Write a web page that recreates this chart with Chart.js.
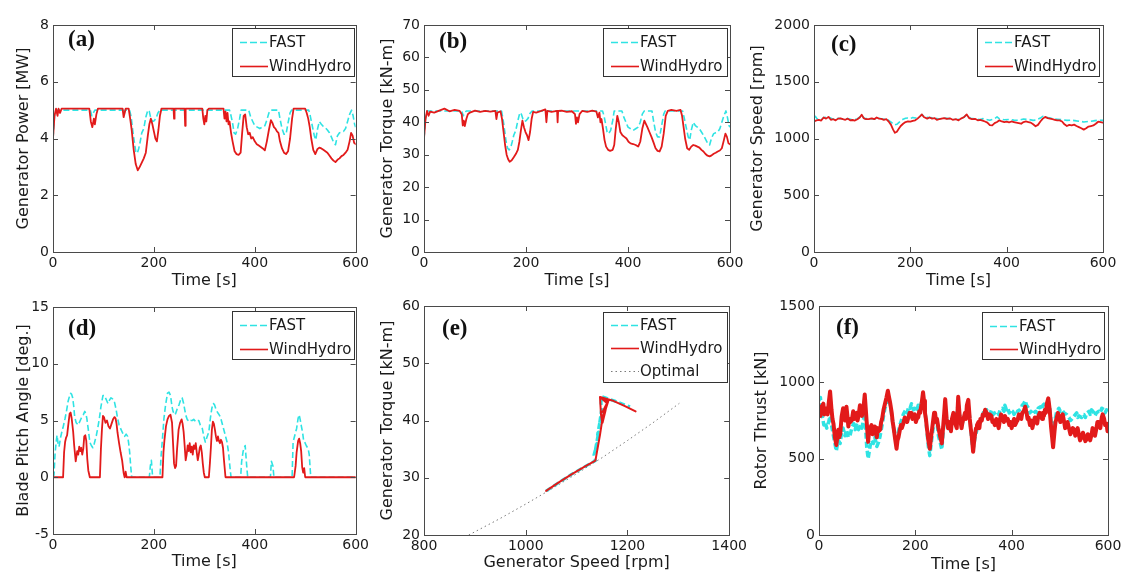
<!DOCTYPE html>
<html><head><meta charset="utf-8">
<script src="https://cdn.jsdelivr.net/npm/chart.js@4.4.1/dist/chart.umd.min.js"></script>
<style>
html,body{margin:0;padding:0;background:#fff;}
#wrap{position:relative;width:1146px;height:580px;overflow:hidden;background:#fff;}
canvas{position:absolute;}
</style></head><body><div id="wrap">
<canvas id="pa"></canvas><canvas id="pb"></canvas><canvas id="pc"></canvas>
<canvas id="pd"></canvas><canvas id="pe"></canvas><canvas id="pf"></canvas>
</div>
<script>
// ---------- tick labels ----------
const timeTicks   = [0, 200, 400, 600];
const powerTicks  = [0, 2, 4, 6, 8];
const torqueTicks = [0, 10, 20, 30, 40, 50, 60, 70];
const speedTicks  = [0, 500, 1000, 1500, 2000];
const pitchTicks  = [-5, 0, 5, 10, 15];
const curveXTicks = [800, 1000, 1200, 1400];
const curveYTicks = [20, 30, 40, 50, 60];
const thrustTicks = [0, 500, 1000, 1500];

// ---------- series: [time s, value] ----------
const powerWindHydro = [[0,4.0],[3,4.8],[6,5.05],[9,4.8],[11,5.05],[14,4.9],[17,5.05],[72,5.05],[75,4.6],[78,4.4],[81,4.7],[83,4.5],[86,4.85],[89,5.05],[138,5.05],[140,4.75],[142,4.9],[144,5.05],[150,5.05],[153,4.7],[156,4.3],[160,3.6],[164,3.1],[168,2.88],[172,3.0],[176,3.15],[180,3.3],[184,3.5],[188,4.1],[191,4.5],[194,4.7],[197,4.5],[200,4.25],[203,4.0],[206,3.9],[209,4.3],[212,4.8],[215,5.05],[239,5.05],[240,4.7],[241,5.05],[261,5.05],[262,4.45],[263,5.05],[296,5.05],[298,4.7],[300,4.5],[302,4.8],[304,4.6],[306,5.0],[309,5.05],[338,5.05],[340,4.7],[342,4.95],[344,4.6],[346,4.9],[348,4.5],[350,4.6],[353,4.2],[356,3.9],[360,3.55],[364,3.45],[368,3.42],[372,3.5],[375,4.2],[378,4.8],[381,4.85],[384,4.4],[387,4.15],[390,4.2],[393,4.0],[396,4.05],[400,3.9],[404,3.8],[408,3.75],[412,3.7],[416,3.65],[420,3.58],[424,3.9],[428,4.3],[432,4.65],[435,4.55],[438,4.4],[441,4.35],[444,4.25],[447,4.2],[450,3.9],[454,3.65],[458,3.5],[462,3.45],[466,3.55],[470,4.0],[474,4.7],[477,5.05],[500,5.05],[503,4.9],[506,4.7],[509,4.4],[512,4.0],[516,3.6],[520,3.45],[524,3.62],[528,3.68],[532,3.65],[536,3.6],[540,3.55],[544,3.5],[548,3.4],[552,3.3],[556,3.22],[560,3.17],[564,3.25],[568,3.3],[572,3.38],[576,3.42],[580,3.5],[584,3.6],[588,3.9],[591,4.2],[594,4.1],[597,3.85],[600,3.8]];
const powerFAST = [[0,4.0],[3,4.8],[6,5.0],[74,5.0],[77,4.8],[80,4.9],[83,5.0],[139,5.0],[141,4.85],[143,5.0],[152,5.0],[155,4.75],[158,4.3],[161,3.9],[164,3.55],[167,3.48],[170,3.65],[173,3.9],[176,4.2],[180,4.35],[184,4.75],[188,5.0],[191,4.95],[194,4.7],[197,4.6],[200,4.62],[204,4.7],[208,4.9],[212,5.0],[350,5.0],[353,4.8],[356,4.55],[359,4.2],[362,4.15],[366,4.35],[370,4.7],[373,5.0],[388,5.0],[392,4.75],[396,4.6],[400,4.45],[405,4.4],[410,4.35],[415,4.4],[420,4.45],[424,4.65],[428,4.9],[432,5.0],[447,5.0],[450,4.7],[454,4.35],[458,4.15],[462,4.15],[466,4.55],[470,4.9],[473,5.0],[507,5.0],[510,4.8],[514,4.45],[518,4.1],[521,3.95],[524,4.3],[528,4.6],[532,4.5],[536,4.42],[540,4.38],[544,4.3],[548,4.2],[552,4.05],[556,3.88],[560,3.78],[564,4.1],[568,4.2],[572,4.22],[576,4.25],[580,4.35],[584,4.6],[588,4.85],[592,5.0],[595,4.8],[598,4.5],[600,4.4]];

const torqueWindHydro = [[0,35],[3,41],[6,43.5],[9,42],[12,43.3],[20,43],[30,43.6],[40,44.2],[50,43.4],[60,43.8],[70,43.5],[74,42.5],[76,39],[78,40.5],[80,38.8],[83,41],[86,42.5],[90,43],[100,43.6],[110,43.2],[120,43.5],[130,43.3],[140,43.5],[142,41],[144,43],[150,43.4],[153,41],[156,37],[159,33],[162,30],[165,28.6],[168,27.8],[172,28.3],[176,29.2],[180,30.2],[184,31.5],[187,34],[190,37.5],[193,40.5],[196,38.5],[199,37],[202,36],[205,34.5],[208,37],[211,41],[214,43.2],[220,43],[230,43.5],[238,44],[240,40],[242,43.5],[250,43.2],[261,43.5],[262,40],[263,43.5],[270,43.6],[280,43.2],[290,43.4],[296,42.5],[298,39.5],[300,41.5],[302,40],[305,42.5],[310,43.5],[320,43.2],[330,43.6],[338,43.3],[341,41.5],[344,43],[346,40],[348,41],[351,38],[354,34.5],[357,32.5],[361,31.5],[365,31.2],[370,31.5],[373,33],[376,38],[379,42],[382,40],[385,37],[389,36],[393,35.5],[397,35],[401,34],[405,33.5],[410,33.3],[415,33],[420,32.5],[424,34],[428,38],[432,40.5],[435,39.5],[438,38.5],[442,37],[446,35.5],[450,33.8],[454,32],[458,31.2],[462,31],[466,32.5],[470,36.5],[474,42],[478,43.5],[485,43.8],[495,43.5],[503,43.8],[506,42],[509,38.5],[512,35],[516,32],[520,31.5],[524,32.5],[528,33],[532,32.8],[536,32.5],[540,32.2],[544,31.5],[548,31],[552,30.2],[556,29.7],[560,29.5],[564,29.8],[568,30.3],[572,30.6],[576,31],[580,31.3],[584,32],[588,34.5],[591,36.5],[594,35.5],[597,33.5],[600,33.2]];
const torqueFAST = [[0,35],[3,41],[6,43.5],[74,43.5],[77,42],[80,43],[83,43.5],[152,43.5],[155,41],[158,37.5],[161,34],[164,32],[167,31.5],[170,32.2],[173,34],[176,36],[180,37.5],[184,40.5],[188,43],[191,42.5],[194,41],[197,40.3],[200,40.5],[204,41.2],[208,42.8],[212,43.5],[350,43.5],[353,42],[356,39.5],[359,37],[362,36.5],[366,37.5],[370,40.5],[373,43.5],[388,43.5],[392,41.5],[396,40],[400,38.5],[405,38],[410,37.5],[415,38],[420,38.5],[424,40],[428,42.5],[432,43.5],[447,43.5],[450,40.5],[454,37],[458,35.5],[462,35.5],[466,39],[470,42.5],[473,43.5],[507,43.5],[510,41.5],[514,38.5],[518,35.5],[521,34.5],[524,37.5],[528,40],[532,39],[536,38.5],[540,38],[544,37],[548,36],[552,34.8],[556,33.6],[560,33],[564,35.2],[568,36.5],[572,36.8],[576,37],[580,38],[584,40],[588,42],[592,43.5],[595,41.5],[598,39],[600,38.5]];

const speedWindHydro = [[0,1150],[5,1160],[10,1165],[15,1158],[20,1185],[25,1175],[30,1190],[35,1165],[40,1170],[45,1160],[50,1175],[55,1178],[60,1170],[65,1165],[70,1175],[75,1160],[80,1163],[85,1158],[90,1170],[95,1185],[99,1210],[103,1180],[108,1170],[115,1172],[120,1178],[125,1170],[130,1185],[135,1175],[140,1172],[145,1165],[150,1170],[155,1150],[160,1120],[164,1080],[168,1050],[172,1060],[176,1085],[180,1110],[185,1130],[190,1145],[195,1150],[200,1148],[205,1155],[210,1160],[215,1175],[220,1195],[224,1212],[228,1190],[235,1175],[240,1185],[245,1175],[250,1180],[255,1165],[260,1170],[265,1175],[270,1180],[276,1172],[282,1178],[288,1165],[295,1170],[300,1160],[305,1175],[312,1190],[317,1212],[322,1180],[328,1170],[335,1172],[340,1160],[345,1165],[350,1158],[355,1150],[360,1140],[365,1118],[370,1115],[375,1135],[380,1145],[385,1160],[390,1150],[395,1145],[400,1148],[405,1142],[410,1150],[415,1145],[420,1140],[425,1135],[430,1130],[435,1145],[440,1150],[445,1145],[450,1140],[455,1125],[460,1108],[465,1120],[470,1150],[475,1175],[480,1190],[485,1180],[490,1175],[495,1170],[500,1165],[505,1160],[510,1160],[515,1150],[520,1125],[525,1110],[530,1120],[535,1115],[540,1122],[545,1110],[550,1100],[555,1090],[560,1078],[565,1090],[570,1105],[575,1110],[580,1115],[585,1130],[590,1148],[595,1145],[600,1140]];
const speedFAST = [[0,1180],[3,1195],[6,1175],[10,1170],[15,1165],[20,1185],[30,1190],[40,1170],[50,1178],[60,1172],[70,1175],[80,1165],[90,1172],[99,1205],[105,1175],[115,1175],[125,1172],[135,1178],[145,1170],[150,1172],[155,1160],[160,1145],[164,1130],[168,1120],[172,1125],[176,1140],[180,1155],[185,1170],[190,1178],[195,1180],[200,1175],[205,1185],[210,1180],[215,1185],[220,1195],[224,1210],[230,1188],[240,1185],[250,1180],[260,1172],[270,1180],[280,1175],[290,1170],[300,1168],[310,1185],[317,1208],[325,1178],[335,1172],[345,1168],[350,1175],[355,1170],[360,1165],[365,1160],[370,1168],[375,1175],[380,1190],[385,1172],[395,1165],[405,1168],[415,1162],[425,1160],[435,1172],[445,1168],[455,1160],[460,1162],[465,1170],[470,1180],[475,1195],[480,1190],[485,1185],[495,1175],[505,1170],[515,1165],[525,1160],[535,1162],[545,1155],[555,1150],[560,1145],[570,1150],[580,1155],[590,1162],[600,1160]];

const pitchWindHydro = [[0,0],[20,0],[22,2.2],[24,3.1],[26,3.5],[28,3.7],[30,4.5],[33,5.6],[35,5.7],[37,5.2],[40,4.0],[42,2.8],[45,1.4],[48,2.3],[50,2.0],[52,2.7],[54,2.3],[56,2.6],[58,2.0],[60,2.5],[62,3.6],[64,3.7],[66,3.2],[68,1.6],[70,0.6],[73,0],[93,0],[95,2.5],[97,4.2],[99,5.4],[101,5.3],[104,4.8],[107,5.0],[110,4.5],[113,4.3],[116,4.7],[119,5.1],[122,5.3],[124,5.2],[126,4.7],[128,3.9],[131,3.0],[134,2.2],[137,1.5],[140,0.4],[142,0],[144,0.5],[146,0],[217,0],[219,2.2],[221,3.3],[224,4.5],[227,5.1],[230,5.4],[233,5.5],[236,4.8],[238,3.0],[240,1.2],[242,0.8],[244,1.0],[246,2.5],[249,4.2],[252,4.8],[255,5.1],[257,4.7],[259,4.0],[261,2.8],[263,1.5],[265,2.0],[267,2.8],[269,2.3],[271,3.0],[273,2.2],[275,2.7],[277,2.0],[279,2.8],[281,2.5],[283,3.0],[285,2.2],[287,1.5],[289,2.0],[291,2.6],[293,2.8],[295,2.2],[297,1.2],[299,0.4],[301,0],[309,0],[311,1.2],[313,2.6],[315,4.2],[317,4.9],[319,4.7],[321,4.2],[323,3.6],[325,3.2],[327,3.6],[329,3.2],[331,3.0],[333,3.3],[335,3.1],[337,2.6],[339,1.5],[342,0],[478,0],[481,1.0],[483,2.2],[486,3.2],[488,3.4],[490,3.0],[492,2.3],[494,0.9],[496,0.4],[498,0.8],[500,0],[600,0]];
const pitchFAST = [[0,0],[2,0.2],[4,2.0],[6,3.0],[8,3.7],[10,3.0],[12,2.7],[15,3.5],[17,3.9],[20,4.4],[24,5.2],[27,5.9],[30,6.7],[33,7.2],[35,7.4],[37,7.3],[39,7.0],[41,6.3],[43,5.3],[46,4.8],[50,4.6],[53,4.9],[56,5.2],[60,5.5],[63,5.8],[65,5.6],[67,5.2],[70,4.2],[73,3.1],[76,2.8],[79,2.6],[82,3.0],[86,3.7],[89,4.4],[92,5.2],[95,6.2],[99,7.2],[102,7.2],[104,7.0],[107,6.7],[109,6.5],[112,6.8],[115,7.0],[118,6.9],[122,6.6],[125,6.0],[128,5.2],[131,4.6],[135,4.2],[138,3.9],[142,3.6],[145,3.8],[148,3.6],[150,3.0],[152,2.2],[154,1.0],[156,0],[191,0],[193,1.0],[195,1.5],[197,0.3],[199,0],[212,0],[214,1.7],[217,3.4],[220,5.2],[223,6.3],[227,7.4],[230,7.5],[233,7.2],[236,6.2],[238,5.8],[241,5.5],[243,5.6],[246,6.0],[250,6.4],[253,6.8],[256,7.0],[259,6.5],[263,5.5],[266,5.1],[270,4.9],[273,5.0],[276,5.0],[279,5.1],[283,4.9],[286,5.0],[289,5.0],[292,4.6],[296,4.3],[299,3.6],[302,3.1],[305,3.5],[309,4.0],[312,5.2],[315,6.1],[318,6.5],[320,6.4],[323,6.0],[325,5.8],[328,5.6],[332,5.3],[335,4.8],[338,4.3],[341,3.8],[345,3.1],[348,2.2],[351,0.8],[353,0],[372,0],[374,1.4],[377,2.3],[381,2.8],[384,1.0],[386,0],[431,0],[433,1.4],[436,1.0],[438,0],[474,0],[476,3.1],[480,3.8],[483,4.3],[486,5.2],[488,5.5],[490,5.1],[492,4.6],[495,3.9],[497,3.2],[499,3.1],[502,2.8],[506,2.5],[508,2.0],[511,0],[600,0]];

// ---------- (e): [generator speed rpm, torque kN-m] ----------
const curveWindHydro = [[1040,27.7],[1065,29.2],[1090,30.6],[1115,31.9],[1137,33.0],[1141,35.0],[1146,37.5],[1150,39.8],[1148,41.0],[1147,42.5],[1146,44.1],[1162,43.4],[1151,41.5],[1161,43.1],[1150,40.5],[1159,42.6],[1151,39.6],[1157,41.8],[1153,40.8],[1163,43.6],[1156,42.2],[1160,43.0],[1146,44.1],[1170,43.5],[1195,42.5],[1216,41.6]];
const curveFAST = [[1040,27.7],[1090,30.6],[1137,33.0],[1134,34.0],[1140,36.0],[1137,35.0],[1143,38.0],[1141,37.5],[1147,40.5],[1145,39.5],[1150,42.5],[1148,43.0],[1150,44.2],[1175,43.4],[1205,42.4]];
const curveOptimal = [[888,20.0],[950,22.9],[1000,25.4],[1050,28.0],[1100,30.7],[1150,33.5],[1200,36.5],[1250,39.6],[1302,43.0]];

const thrustWindHydro = [[0,820],[3,780],[5,840],[9,860],[11,790],[13,810],[16,830],[18,790],[20,860],[23,940],[26,820],[28,760],[30,730],[33,640],[36,590],[38,640],[40,690],[42,640],[44,660],[47,775],[50,830],[52,760],[54,750],[57,840],[59,780],[61,710],[63,760],[65,740],[68,750],[71,810],[73,760],[75,790],[78,800],[80,750],[82,780],[85,850],[87,800],[89,780],[92,820],[95,920],[97,830],[99,740],[102,610],[104,680],[106,700],[109,720],[111,660],[113,690],[116,710],[118,670],[120,640],[122,700],[124,680],[127,690],[129,740],[131,760],[134,820],[137,860],[140,900],[143,945],[145,910],[148,860],[151,800],[153,740],[155,700],[158,630],[161,565],[163,620],[165,640],[168,690],[170,720],[172,700],[175,730],[178,770],[180,760],[183,740],[186,775],[188,800],[190,790],[192,800],[194,760],[196,770],[199,790],[201,740],[203,760],[206,770],[208,810],[210,800],[213,860],[216,935],[218,880],[220,800],[222,760],[224,700],[227,620],[230,565],[233,650],[235,700],[237,750],[239,800],[241,800],[243,740],[245,760],[248,700],[250,670],[252,640],[255,600],[258,720],[260,800],[262,890],[265,760],[268,700],[270,740],[272,710],[274,680],[276,760],[279,800],[281,760],[283,730],[286,700],[289,905],[292,780],[294,740],[296,700],[298,740],[300,760],[303,800],[305,760],[307,850],[310,885],[313,760],[315,700],[317,650],[320,545],[322,610],[324,660],[326,700],[328,720],[331,740],[333,700],[335,760],[338,750],[340,790],[342,780],[345,820],[348,800],[351,760],[353,790],[355,770],[358,780],[360,740],[362,750],[365,720],[368,760],[370,740],[373,700],[376,760],[378,790],[381,770],[384,740],[386,780],[389,750],[392,760],[395,720],[397,740],[400,700],[402,730],[405,760],[407,720],[410,740],[412,750],[415,790],[417,770],[420,760],[422,800],[425,810],[428,840],[431,800],[433,760],[435,770],[438,720],[440,750],[443,700],[445,730],[448,770],[450,760],[453,730],[455,775],[458,800],[460,790],[463,760],[465,800],[467,780],[469,820],[471,800],[473,860],[476,895],[479,820],[482,700],[484,640],[486,575],[489,680],[491,740],[493,760],[496,800],[498,780],[501,740],[504,770],[506,790],[509,740],[511,700],[514,710],[516,740],[519,700],[522,660],[525,680],[527,700],[530,690],[532,650],[535,670],[537,700],[540,650],[542,620],[545,640],[548,670],[550,650],[553,615],[556,630],[558,660],[561,650],[563,620],[566,660],[568,700],[571,680],[573,650],[576,700],[578,740],[581,740],[584,700],[587,770],[589,790],[592,760],[594,720],[597,730],[599,680],[600,700]];
const thrustFAST = [[0,880],[3,900],[5,800],[8,760],[10,720],[13,740],[16,700],[20,740],[23,780],[26,720],[30,650],[33,600],[36,550],[38,590],[40,620],[44,600],[47,680],[50,700],[54,650],[57,690],[61,640],[65,660],[68,700],[72,730],[75,690],[78,720],[82,690],[86,720],[89,700],[92,750],[95,800],[99,580],[102,500],[104,540],[106,580],[109,620],[113,600],[116,640],[120,580],[124,610],[127,650],[131,720],[134,780],[137,830],[140,860],[145,900],[148,850],[151,780],[155,700],[158,640],[161,600],[165,680],[168,720],[172,760],[175,790],[180,820],[183,800],[186,840],[189,830],[192,860],[196,820],[199,830],[203,810],[206,850],[210,840],[213,870],[216,900],[220,820],[224,680],[227,580],[230,520],[233,600],[237,700],[241,780],[245,740],[248,650],[252,600],[255,560],[258,680],[262,820],[266,740],[269,700],[272,690],[276,740],[279,780],[284,720],[289,870],[292,780],[296,720],[300,750],[303,780],[307,820],[310,840],[314,740],[317,620],[320,560],[324,640],[328,690],[331,720],[335,740],[338,760],[341,800],[345,780],[348,820],[351,800],[355,790],[358,820],[362,790],[365,800],[370,810],[373,790],[376,820],[381,830],[384,810],[386,850],[389,820],[392,830],[395,800],[397,820],[402,810],[405,790],[407,800],[410,790],[412,810],[417,820],[420,830],[422,850],[425,860],[428,880],[431,850],[435,830],[438,800],[440,810],[443,790],[445,800],[450,810],[453,800],[455,830],[460,840],[463,820],[465,850],[469,860],[473,880],[476,880],[479,830],[482,740],[486,680],[489,740],[493,800],[496,820],[498,830],[501,810],[504,820],[509,800],[514,790],[519,770],[522,750],[525,760],[530,780],[535,800],[537,770],[540,780],[545,770],[548,790],[550,790],[553,770],[556,800],[561,810],[563,790],[566,820],[571,800],[573,780],[576,800],[581,810],[584,800],[587,830],[592,820],[594,800],[597,820],[600,810]];

// ---------- styling ----------
const CYAN = '#2fe3e3', RED = '#e21a1a', GREY = '#7a7a7a';
Chart.defaults.font.family = '"DejaVu Sans", sans-serif';
Chart.defaults.color = '#1a1a1a';

const panelPlugin = {
  id: 'panelDeco',
  afterDatasetsDraw(chart, args, o) {
    const {ctx, chartArea: a, scales} = chart;
    ctx.save();
    ctx.strokeStyle = '#4a4a4a'; ctx.lineWidth = 1;
    const tl = 5;
    ctx.beginPath();
    scales.x.ticks.forEach(t => {
      const px = Math.round(scales.x.getPixelForValue(t.value)) + 0.5;
      ctx.moveTo(px, a.bottom); ctx.lineTo(px, a.bottom - tl);
      ctx.moveTo(px, a.top); ctx.lineTo(px, a.top + tl);
    });
    scales.y.ticks.forEach(t => {
      const py = Math.round(scales.y.getPixelForValue(t.value)) + 0.5;
      ctx.moveTo(a.left, py); ctx.lineTo(a.left + tl, py);
      ctx.moveTo(a.right, py); ctx.lineTo(a.right - tl, py);
    });
    ctx.stroke();
    ctx.strokeRect(Math.round(a.left) + 0.5, Math.round(a.top) + 0.5,
                   Math.round(a.right - a.left), Math.round(a.bottom - a.top));
    ctx.fillStyle = '#111';
    ctx.font = 'bold 23px "Liberation Serif", serif';
    ctx.textBaseline = 'middle'; ctx.textAlign = 'left';
    ctx.fillText(o.letter, o.lx, o.ly);
    const L = o.legend;
    ctx.fillStyle = '#fff';
    ctx.fillRect(L.x1, L.y1, L.x2 - L.x1, L.y2 - L.y1);
    ctx.strokeStyle = '#333'; ctx.lineWidth = 1;
    ctx.strokeRect(L.x1 + 0.5, L.y1 + 0.5, L.x2 - L.x1, L.y2 - L.y1);
    ctx.font = '15px "DejaVu Sans", sans-serif';
    ctx.textBaseline = 'middle';
    L.rows.forEach((r, i) => {
      const ds = chart.data.datasets.find(d => d.label === r);
      const y = L.ys[i] + 0.5;
      ctx.beginPath();
      ctx.strokeStyle = ds.borderColor;
      ctx.lineWidth = ds.legendWidth || 1.5;
      ctx.setLineDash(ds.legendDash || []);
      ctx.moveTo(L.x1 + 8, y); ctx.lineTo(L.x1 + 36, y);
      ctx.stroke();
      ctx.setLineDash([]);
      ctx.fillStyle = '#1a1a1a';
      ctx.fillText(r, L.x1 + 37, L.ys[i] + 1);
    });
    ctx.restore();
  }
};

function toXY(arr) { return arr.map(p => ({x: p[0], y: p[1]})); }
const plainNum = v => String(v);

function makePanel(id, g, xTicks, yTicks, xTitle, yTitle, datasets, letter, legend) {
  const cv = document.getElementById(id);
  cv.width = g.cw; cv.height = g.ch;
  cv.style.left = g.cl + 'px'; cv.style.top = g.ct + 'px';
  const lh = 16 * 1.2;
  const tickSetter = arr => s => { s.ticks = arr.map(v => ({value: v})); };
  new Chart(cv, {
    type: 'line',
    data: {datasets},
    options: {
      responsive: false, animation: false, devicePixelRatio: 1,
      events: [],
      layout: {padding: {left: 0, top: g.T - g.ct, right: g.cl + g.cw - g.R, bottom: 0}},
      plugins: {legend: {display: false}, tooltip: {enabled: false},
        panelDeco: {letter, lx: g.lx - g.cl, ly: g.ly - g.ct,
          legend: {x1: legend.x1 - g.cl, x2: legend.x2 - g.cl, y1: legend.y1 - g.ct, y2: legend.y2 - g.ct,
                   rows: legend.rows, ys: legend.ys.map(v => v - g.ct)}}},
      elements: {point: {radius: 0}, line: {tension: 0, borderJoinStyle: 'round', borderCapStyle: 'round'}},
      scales: {
        x: {type: 'linear', min: xTicks[0], max: xTicks[xTicks.length - 1],
            afterBuildTicks: tickSetter(xTicks),
            afterFit: s => { s.height = g.ct + g.ch - g.B; },
            grid: {display: false, drawTicks: false}, border: {display: false},
            ticks: {padding: 3, maxRotation: 0, autoSkip: false, font: {size: 14}, color: '#1a1a1a', callback: plainNum},
            title: {display: true, text: xTitle, font: {size: 16}, color: '#1a1a1a',
                    padding: {top: 0, bottom: g.ch - (g.xc - g.ct) - lh / 2}}},
        y: {type: 'linear', min: yTicks[0], max: yTicks[yTicks.length - 1],
            afterBuildTicks: tickSetter(yTicks),
            afterFit: s => { s.width = g.L - g.cl; },
            grid: {display: false, drawTicks: false}, border: {display: false},
            ticks: {padding: 4, autoSkip: false, font: {size: 14}, color: '#1a1a1a', callback: plainNum},
            title: {display: true, text: yTitle, font: {size: 16}, color: '#1a1a1a',
                    padding: {top: g.yc - g.cl - lh / 2, bottom: 0}}}
      }
    },
    plugins: [panelPlugin]
  });
}

function fastDs(arr, w) {
  return {label: 'FAST', data: toXY(arr), borderColor: CYAN, borderWidth: w || 1.6,
          borderDash: [6, 3], borderCapStyle: 'butt', order: 2, legendDash: [7, 3], legendWidth: 1.6};
}
function whDs(arr, w) {
  return {label: 'WindHydro', data: toXY(arr), borderColor: RED, borderWidth: w || 1.8,
          order: 1, legendWidth: 1.6};
}
const rows2 = ['FAST', 'WindHydro'];

makePanel('pa', {cl:0, ct:0, cw:372, ch:300, L:53, T:25, R:358, B:252, yc:24, xc:281, lx:68, ly:40},
  timeTicks, powerTicks, 'Time [s]', 'Generator Power [MW]',
  [fastDs(powerFAST), whDs(powerWindHydro)], '(a)',
  {x1:232, x2:354, y1:28, y2:76, rows: rows2, ys:[42, 66]});

makePanel('pb', {cl:372, ct:0, cw:378, ch:300, L:424, T:25, R:730, B:252, yc:388, xc:281, lx:439, ly:42},
  timeTicks, torqueTicks, 'Time [s]', 'Generator Torque [kN-m]',
  [fastDs(torqueFAST), whDs(torqueWindHydro)], '(b)',
  {x1:603, x2:727, y1:28, y2:76, rows: rows2, ys:[42, 66]});

makePanel('pc', {cl:745, ct:0, cw:401, ch:300, L:814, T:25, R:1103, B:252, yc:758, xc:281, lx:831, ly:45},
  timeTicks, speedTicks, 'Time [s]', 'Generator Speed [rpm]',
  [fastDs(speedFAST), whDs(speedWindHydro)], '(c)',
  {x1:977, x2:1099, y1:28, y2:76, rows: rows2, ys:[42, 66]});

makePanel('pd', {cl:0, ct:290, cw:372, ch:290, L:53, T:307, R:358, B:534, yc:24, xc:562, lx:68, ly:329},
  timeTicks, pitchTicks, 'Time [s]', 'Blade Pitch Angle [deg.]',
  [fastDs(pitchFAST), whDs(pitchWindHydro)], '(d)',
  {x1:232, x2:354, y1:311, y2:359, rows: rows2, ys:[325, 349]});

makePanel('pe', {cl:372, ct:290, cw:378, ch:290, L:424, T:306, R:730, B:535, yc:388, xc:563, lx:442, ly:329},
  curveXTicks, curveYTicks, 'Generator Speed [rpm]', 'Generator Torque [kN-m]',
  [fastDs(curveFAST, 3), whDs(curveWindHydro, 2),
   {label: 'Optimal', data: toXY(curveOptimal), borderColor: GREY, borderWidth: 1,
    borderDash: [1.5, 3], borderCapStyle: 'butt', order: 3, legendDash: [1.5, 3], legendWidth: 1}],
  '(e)',
  {x1:603, x2:727, y1:312, y2:382, rows: ['FAST', 'WindHydro', 'Optimal'], ys:[325, 348, 371]});

makePanel('pf', {cl:745, ct:290, cw:401, ch:290, L:819, T:306, R:1108, B:535, yc:762, xc:565, lx:836, ly:328},
  timeTicks, thrustTicks, 'Time [s]', 'Rotor Thrust [kN]',
  [fastDs(thrustFAST, 3.5), whDs(thrustWindHydro, 4)], '(f)',
  {x1:982, x2:1104, y1:312, y2:359, rows: rows2, ys:[326, 349]});
</script>
</body></html>
